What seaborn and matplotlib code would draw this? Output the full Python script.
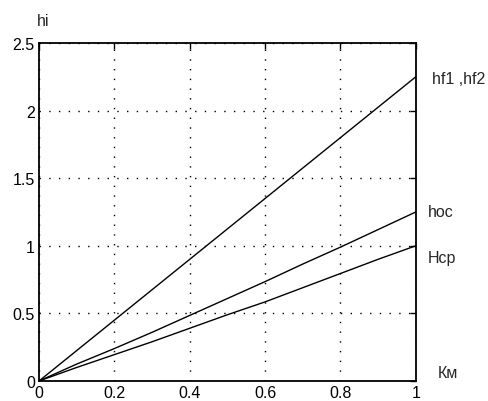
import numpy as np
import pandas as pd
import seaborn as sns
import matplotlib
matplotlib.use("Agg")
import matplotlib.pyplot as plt

# values
km = [0.0, 0.1, 0.2, 0.3, 0.4, 0.5, 0.6, 0.7, 0.8, 0.9, 1.0]
hf = [0.0, 0.225, 0.45, 0.675, 0.90, 1.125, 1.35, 1.575, 1.80, 2.025, 2.25]
hoc = [0.0, 0.125, 0.24, 0.36, 0.485, 0.61, 0.735, 0.865, 0.99, 1.12, 1.25]
hcp = [0.0, 0.10, 0.195, 0.29, 0.39, 0.49, 0.585, 0.69, 0.795, 0.90, 1.0]
names = ["hf1 ,hf2", "hoc", "Hcp"]

df = pd.concat([
    pd.DataFrame({"km": km, "h": hf, "name": names[0]}),
    pd.DataFrame({"km": km, "h": hoc, "name": names[1]}),
    pd.DataFrame({"km": km, "h": hcp, "name": names[2]}),
])

sns.set_style("white")
plt.rcParams['font.family'] = ['Liberation Sans', 'DejaVu Sans']

fig = plt.figure(figsize=(4.88, 4.02), dpi=100)
ax = fig.add_axes([0.080, 0.0498, 0.772, 0.8407])

sns.lineplot(data=df, x="km", y="h", units="name", estimator=None,
             color="black", linewidth=1.0, ax=ax, legend=False)

ax.set_xlim(0, 1)
ax.set_ylim(0, 2.5)
ax.set_xticks([0, 0.2, 0.4, 0.6, 0.8, 1])
ax.set_xticklabels(["0", "0.2", "0.4", "0.6", "0.8", "1"])
ax.set_yticks([0, 0.5, 1, 1.5, 2, 2.5])
ax.set_yticklabels(["0", "0.5", "1", "1.5", "2", "2.5"])
ax.set_xlabel("")
ax.set_ylabel("")
ax.grid(True, color="black", linestyle=(0, (1, 6)), linewidth=1.0)
ax.tick_params(direction="in", length=4, width=1, top=True, right=True,
               labelsize=11.5, colors="black", pad=3)
for s in ax.spines.values():
    s.set_color("black")
    s.set_linewidth(1.3)

fs = 11.5
ax.text(-0.005, 2.663, "hi", fontsize=fs, va="center", ha="left", clip_on=False)
ax.text(1.042, 2.234, "hf1 ,hf2", fontsize=fs, va="center", ha="left", clip_on=False)
ax.text(1.031, 1.257, "hoc", fontsize=fs, va="center", ha="left", clip_on=False)
ax.text(1.031, 0.91, "Hcp", fontsize=fs, va="center", ha="left", clip_on=False)
ax.text(1.0576, 0.06, "Км", fontsize=fs, va="center", ha="left", clip_on=False)

fig.savefig("out.png", dpi=100)
